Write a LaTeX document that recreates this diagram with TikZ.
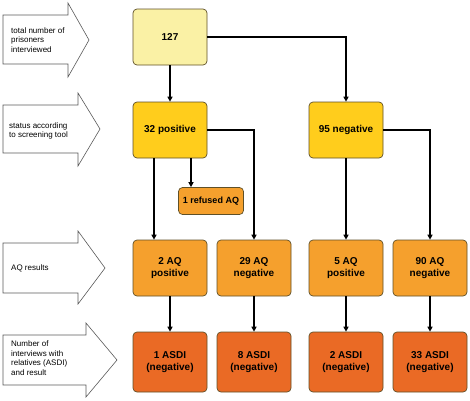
\documentclass[tikz,border=0pt]{standalone}
\usepackage{fontspec}
\setmainfont{Liberation Sans}
\usetikzlibrary{arrows.meta}
\definecolor{cTop}{RGB}{250,241,165}
\definecolor{cScr}{RGB}{255,205,28}
\definecolor{cAQ}{RGB}{245,160,45}
\definecolor{cAS}{RGB}{234,106,37}
\definecolor{cBorder}{RGB}{95,80,40}
\definecolor{cArr}{RGB}{90,90,90}
\begin{document}
\begin{tikzpicture}[x=1pt,y=-1pt,
  box/.style={draw=cBorder, line width=0.7pt, rounded corners=4pt,
    minimum width=74pt, minimum height=56pt, align=center, inner sep=1pt,
    font=\bfseries\fontsize{10}{12.5}\selectfont},
  smallbox/.style={box, minimum width=65pt, minimum height=27pt,
    font=\bfseries\fontsize{9}{11}\selectfont},
  conn/.style={draw=black, line width=1.3pt, -{Triangle[length=5pt,width=5pt]}},
  sidearrow/.style={draw=cArr, line width=0.6pt, fill=white},
  sidetext/.style={anchor=west, align=left, inner sep=0pt,
    font=\fontsize{8}{9.6}\selectfont}]
\useasboundingbox (0,0) rectangle (470,400);

% side arrows
\draw[sidearrow] (3,15) -- (68,15) -- (68,3) -- (89,40) -- (68,77) -- (68,64) -- (3,64) -- cycle;
\draw[sidearrow] (3,105) -- (78,105) -- (78,93) -- (100,129) -- (78,166) -- (78,153) -- (3,153) -- cycle;
\draw[sidearrow] (3,243) -- (78,243) -- (78,231) -- (105,268) -- (78,304) -- (78,293) -- (3,293) -- cycle;
\draw[sidearrow] (3,335) -- (86,335) -- (86,323) -- (117,360) -- (86,397) -- (86,385) -- (3,385) -- cycle;

\node[sidetext] (t1) at (11,40) {total number of\\prisoners\\interviewed};
\node[sidetext] (t2) at (9,131) {status according\\to screening tool};
\node[sidetext] (t3) at (11,268) {AQ results};
\node[sidetext] (t4) at (11,358) {Number of\\interviews with\\relatives (ASDI)\\and result};

% boxes
\node[box, fill=cTop] (n127) at (170,37) {127};
\node[box, fill=cScr] (n32) at (170,130) {32 positive};
\node[box, fill=cScr] (n95) at (346,130) {95 negative};
\node[smallbox, fill=cAQ] (ref) at (211,201) {1 refused AQ};
\node[box, fill=cAQ] (a2) at (170,268) {2 AQ\\positive};
\node[box, fill=cAQ] (a29) at (254,268) {29 AQ\\negative};
\node[box, fill=cAQ] (a5) at (346,268) {5 AQ\\positive};
\node[box, fill=cAQ] (a90) at (430,268) {90 AQ\\negative};
\node[box, fill=cAS, minimum height=60pt] (s1) at (170,362) {1 ASDI\\(negative)};
\node[box, fill=cAS, minimum height=60pt] (s8) at (254,362) {8 ASDI\\(negative)};
\node[box, fill=cAS, minimum height=60pt] (s2) at (346,362) {2 ASDI\\(negative)};
\node[box, fill=cAS, minimum height=60pt] (s33) at (430,362) {33 ASDI\\(negative)};

% connectors
\draw[conn] (n127) -- (n32);
\draw[conn] (n127.east) -| (n95.north);
\draw[conn] ([xshift=-16pt]n32.south) -- ([xshift=-16pt]n32.south |- a2.north);
\draw[conn] ([xshift=21pt]n32.south) -- ([xshift=21pt]n32.south |- ref.north);
\draw[conn] (n32.east) -| (a29.north);
\draw[conn] (n95) -- (a5);
\draw[conn] (n95.east) -| (a90.north);
\draw[conn] (a2) -- (s1);
\draw[conn] (a29) -- (s8);
\draw[conn] (a5) -- (s2);
\draw[conn] (a90) -- (s33);
\end{tikzpicture}
\end{document}
